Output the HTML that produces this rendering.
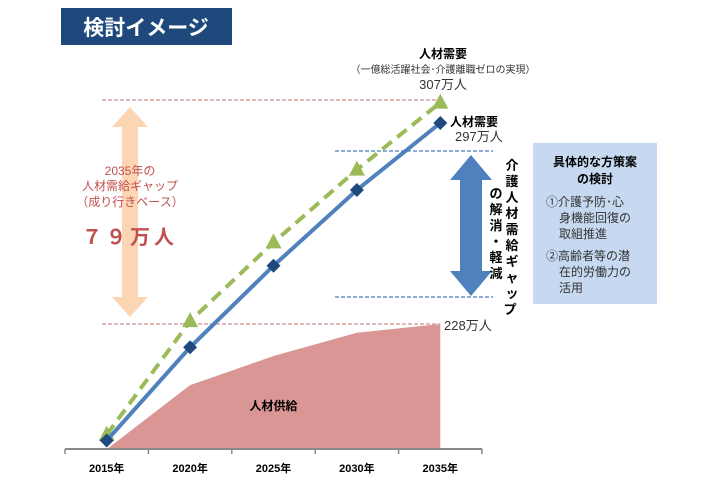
<!DOCTYPE html>
<html><head><meta charset="utf-8"><style>
body{margin:0;background:#fff;font-family:"Liberation Sans","Noto Sans CJK JP",sans-serif}
svg text{font-family:"Liberation Sans","Noto Sans CJK JP",sans-serif}
</style></head><body>
<svg width="720" height="480" viewBox="0 0 720 480">
<rect x="61" y="8" width="171" height="37" fill="#1f497d"/>
<text x="146" y="35" font-size="21" font-weight="bold" fill="#fff" text-anchor="middle">検討イメージ</text>
<g id="plot"></g>
<line x1="102" y1="100" x2="440" y2="100" stroke="#d9a0a0" stroke-width="1.5" stroke-dasharray="4,2"/>
<line x1="335" y1="151" x2="493" y2="151" stroke="#4a7ebb" stroke-width="1.2" stroke-dasharray="4,2"/>
<line x1="335" y1="297" x2="493" y2="297" stroke="#4a7ebb" stroke-width="1.2" stroke-dasharray="4,2"/>
<polygon points="130,107 148,127 138,127 138,297 148,297 130,317 112,297 122,297 122,127 112,127" fill="#fcd5b5"/>
<text font-size="12" fill="#c0504d" text-anchor="middle"><tspan x="130" y="175">2035年の</tspan><tspan x="130" y="190">人材需給ギャップ</tspan><tspan x="130" y="206">（成り行きベース）</tspan></text>
<text x="130" y="244" font-size="20" font-weight="bold" fill="#c0504d" text-anchor="middle" letter-spacing="4">７９万人</text>
<polygon points="471,155 492,180 482,180 482,271 492,271 471,296 450,271 460,271 460,180 450,180" fill="#4f81bd"/>
<text font-size="13" font-weight="bold" fill="#000" text-anchor="middle">
<tspan x="512" y="170">介</tspan><tspan x="512" y="186">護</tspan><tspan x="512" y="202">人</tspan><tspan x="512" y="218">材</tspan><tspan x="512" y="234">需</tspan><tspan x="512" y="250">給</tspan><tspan x="512" y="266">ギ</tspan><tspan x="512" y="282">ャ</tspan><tspan x="512" y="298">ッ</tspan><tspan x="512" y="314">プ</tspan>
<tspan x="496" y="198">の</tspan><tspan x="496" y="214">解</tspan><tspan x="496" y="230">消</tspan><tspan x="496" y="246">・</tspan><tspan x="496" y="262">軽</tspan><tspan x="496" y="278">減</tspan></text>
<rect x="533" y="143" width="124" height="161" fill="#c6d9f1"/>
<text font-size="12" font-weight="bold" text-anchor="middle"><tspan x="595" y="166">具体的な方策案</tspan><tspan x="595" y="183">の検討</tspan></text>
<text font-size="12" fill="#333"><tspan x="546" y="206">①介護予防･心</tspan><tspan x="559" y="222">身機能回復の</tspan><tspan x="559" y="238">取組推進</tspan><tspan x="546" y="260">②高齢者等の潜</tspan><tspan x="559" y="276">在的労働力の</tspan><tspan x="559" y="292">活用</tspan></text>
<text x="443" y="58" font-size="12" font-weight="bold" text-anchor="middle">人材需要</text>
<text x="443" y="73" font-size="10" fill="#333" text-anchor="middle">（一億総活躍社会･介護離職ゼロの実現）</text>
<text x="443" y="89" font-size="13" fill="#333" text-anchor="middle">307万人</text>
<text x="450" y="126" font-size="12" font-weight="bold">人材需要</text>
<text x="455" y="141" font-size="13" fill="#333">297万人</text>
<text x="444" y="330" font-size="13" fill="#333">228万人</text>
</svg>
<script>
const categories=["2015年","2020年","2025年","2030年","2035年"];
const supply=[185,207,217,225,228];
const demand=[188,220,248,274,297];
const demandHigh=[190,229,256,281,304];
const NS="http://www.w3.org/2000/svg";
const g=document.getElementById("plot");
const x0=65,x1=482,yBase=449;
const step=(x1-x0)/categories.length;
function xs(i){return x0+step*(i+0.5);}
function ys(v){return 324-(v-228)*2.913;}
function mk(t,a){const e=document.createElementNS(NS,t);for(const k in a)e.setAttribute(k,a[k]);g.appendChild(e);return e;}
let pts=xs(0)+","+yBase+" ";
supply.forEach((v,i)=>{pts+=xs(i)+","+ys(v)+" ";});
pts+=xs(supply.length-1)+","+yBase;
const area=mk("polygon",{points:pts,fill:"#d99694"});


const sl=mk("line",{x1:102,y1:ys(228),x2:xs(4),y2:ys(228),stroke:"#d9a0a0","stroke-width":1.5,"stroke-dasharray":"4,2"});


const st=mk("text",{x:(xs(1)+xs(3))/2,y:410,"font-size":12,"font-weight":"bold","text-anchor":"middle"});st.textContent="人材供給";


const ax=mk("line",{x1:x0,y1:yBase,x2:x1,y2:yBase,stroke:"#888","stroke-width":2});


for(let i=0;i<=categories.length;i++){const t=mk("line",{x1:x0+step*i,y1:yBase,x2:x0+step*i,y2:yBase+5,stroke:"#888","stroke-width":1.5});

}
categories.forEach((c,i)=>{const t=mk("text",{x:xs(i),y:472,"font-size":11,"font-weight":"bold","text-anchor":"middle"});t.textContent=c;

});
const gl=mk("polyline",{points:demandHigh.map((v,i)=>xs(i)+","+ys(v)).join(" "),fill:"none",stroke:"#9bbb59","stroke-width":4,"stroke-dasharray":"12,7"});


demandHigh.forEach((v,i)=>{const x=xs(i),y=ys(v);const p=mk("polygon",{points:`${x},${y-9} ${x+8},${y+6} ${x-8},${y+6}`,fill:"#9bbb59"});

});
const bl=mk("polyline",{points:demand.map((v,i)=>xs(i)+","+ys(v)).join(" "),fill:"none",stroke:"#4f81bd","stroke-width":4});


demand.forEach((v,i)=>{const x=xs(i),y=ys(v);const p=mk("polygon",{points:`${x},${y-7} ${x+7},${y} ${x},${y+7} ${x-7},${y}`,fill:"#1f497d"});

});
</script>
</body></html>
